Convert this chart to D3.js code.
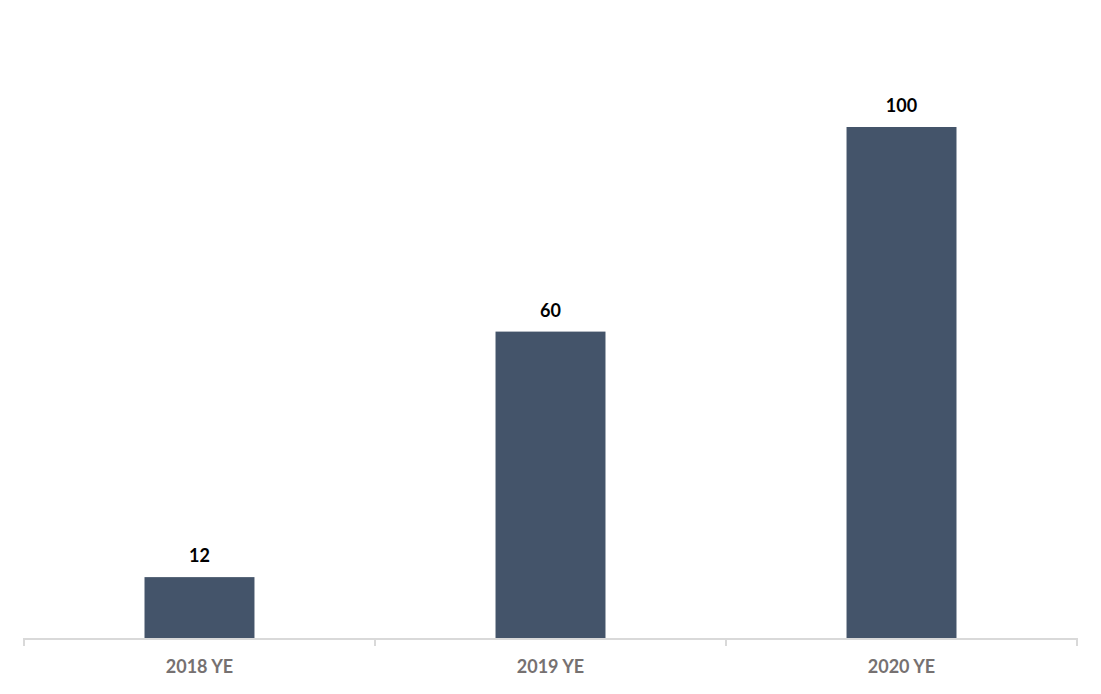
<!DOCTYPE html>
<html><head><meta charset="utf-8">
<script src="https://cdn.jsdelivr.net/npm/d3@7"></script>
<style>body{margin:0;background:#fff}svg{display:block}</style>
</head><body>
<svg id="c" width="1101" height="694"></svg>
<script>
const categories = ["2018 YE", "2019 YE", "2020 YE"];
const values = [12, 60, 100];

const svg = d3.select("#c");
const x = d3.scaleBand().domain(categories).range([24, 1077]).paddingInner(0.6867).paddingOuter(0.3433);
const y = d3.scaleLinear().domain([0, 100]).range([638.5, 127]);

svg.selectAll("rect.bar").data(values).join("rect")
  .attr("class","bar")
  .attr("x",(d,i)=>x(categories[i]))
  .attr("width",x.bandwidth())
  .attr("y",d=>y(d))
  .attr("height",d=>y(0)-y(d))
  .attr("fill","#44546a");

svg.selectAll("text.val").data(values).join("text")
  .attr("class","val")
  .attr("x",(d,i)=>x(categories[i])+x.bandwidth()/2)
  .attr("y",d=>y(d)-15)
  .attr("text-anchor","middle")
  .attr("font-family","Lato, 'Open Sans', sans-serif")
  .attr("font-weight","bold")
  .attr("font-size","18px")
  .attr("fill","#000")
  .text(d=>d);

// axis
const step = (1077-24)/categories.length;
const axisG = svg.append("g");
axisG.append("line").attr("x1",24).attr("x2",1077).attr("y1",639).attr("y2",639)
  .attr("stroke","#d9d9d9").attr("stroke-width",2);
d3.range(categories.length+1).forEach(i=>{
  const xx = 24 + i*step;
  axisG.append("line").attr("x1",xx).attr("x2",xx).attr("y1",638).attr("y2",646)
    .attr("stroke","#d9d9d9").attr("stroke-width",2);
});
svg.selectAll("text.cat").data(categories).join("text")
  .attr("class","cat")
  .attr("x",d=>x(d)+x.bandwidth()/2)
  .attr("y",673)
  .attr("text-anchor","middle")
  .attr("font-family","Lato, 'Open Sans', sans-serif")
  .attr("font-weight","bold")
  .attr("font-size","18px")
  .attr("fill","#767171")
  .text(d=>d);
</script>
</body></html>
